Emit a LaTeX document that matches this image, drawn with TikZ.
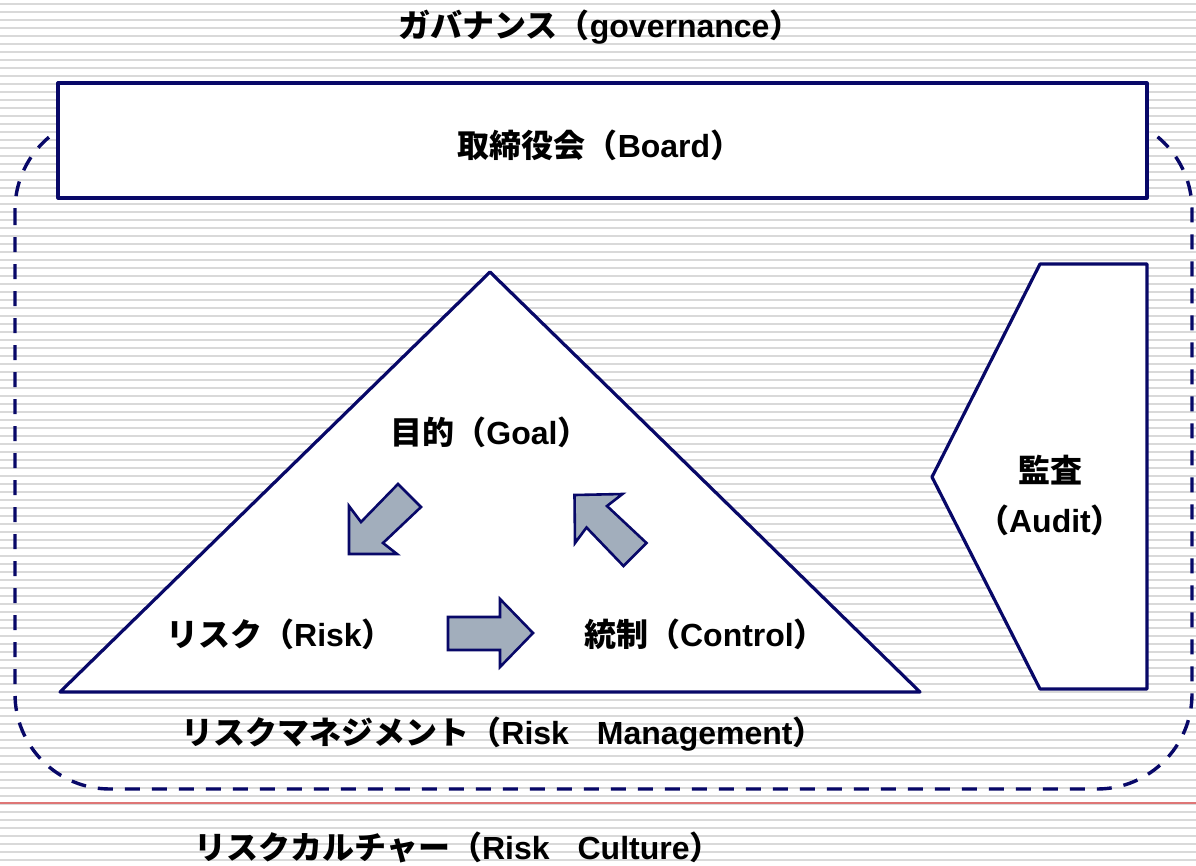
\documentclass[tikz,border=0pt]{standalone}
\usepackage{fontspec}
\setmainfont{Noto Sans CJK JP}
\newfontfamily\lat{Liberation Sans}
\definecolor{navy}{RGB}{8,8,104}
\definecolor{stripe}{RGB}{217,217,217}
\definecolor{redline}{RGB}{222,118,118}
\definecolor{arrowfill}{RGB}{162,174,188}
\tikzset{
  shapeline/.style={draw=navy, line width=3.2pt, line join=round, fill=white},
  blockarrow/.style={draw=navy, line width=2.6pt, line join=miter, fill=arrowfill},
  lbl/.style={inner sep=0pt, font=\fontsize{32}{32}\selectfont\bfseries, text=black},
}
\begin{document}
\begin{tikzpicture}[x=1pt,y=-1pt]
\useasboundingbox (0,0) rectangle (1196,865);
\fill[white] (0,0) rectangle (1196,865);
% stripes
\foreach \k in {0,...,107} {
  \fill[stripe] (0,{2.7+8*\k}) rectangle (1196,{4.7+8*\k});
}
% red line
\draw[redline, line width=1.5pt] (0,803) -- (1196,803);
% culture dashed region
\draw[navy, line width=3.4pt, dash pattern=on 15pt off 12pt, rounded corners=95pt]
  (15,115) rectangle (1192,789);
% board
\node[shapeline, minimum width=1089pt, minimum height=115pt, inner sep=0pt] (board) at (602.5,140.5) {};
\node[lbl] (boardtxt) at (600,145) {取締役会（{\lat Board}）};
% triangle
\coordinate (apex) at (490,272);
\coordinate (bl) at (60,692);
\coordinate (br) at (920,692);
\draw[shapeline] (apex) -- (bl) -- (br) -- cycle;
% audit
\coordinate (a1) at (1040,264);
\coordinate (a2) at (1147,264);
\coordinate (a3) at (1147,689);
\coordinate (a4) at (1040,689);
\coordinate (a5) at (932,477);
\draw[shapeline] (a1) -- (a2) -- (a3) -- (a4) -- (a5) -- cycle;
\node[lbl] (audit1) at (1050,470) {監査};
\node[lbl] (audit2) at (1050,520) {（{\lat Audit}）};
% block arrows
\draw[blockarrow] (349,506) -- (361,522) -- (398,484) -- (421,507) -- (383,543) -- (397,554) -- (349,554) -- cycle;
\draw[blockarrow] (574.5,495) -- (622.5,494) -- (607,506) -- (646.5,543) -- (623.5,566) -- (586.5,527.5) -- (575,543) -- cycle;
\draw[blockarrow] (448,617) -- (500,617) -- (500,599) -- (533,633) -- (500,667) -- (500,650) -- (448,650) -- cycle;
% labels
\node[lbl] (title) at (600,27) {ガバナンス（{\lat governance}）};
\node[lbl] (goal) at (490,432) {目的（{\lat Goal}）};
\node[lbl] (risk) at (280,634) {リスク（{\lat Risk}）};
\node[lbl] (control) at (705,634) {統制（{\lat Control}）};
\node[lbl] (rm) at (503,734) {リスクマネジメント（{\lat Risk\hspace{28pt}Management}）};
\node[lbl] (rc) at (458,847) {リスクカルチャー（{\lat Risk\hspace{28pt}Culture}）};
\end{tikzpicture}
\end{document}
